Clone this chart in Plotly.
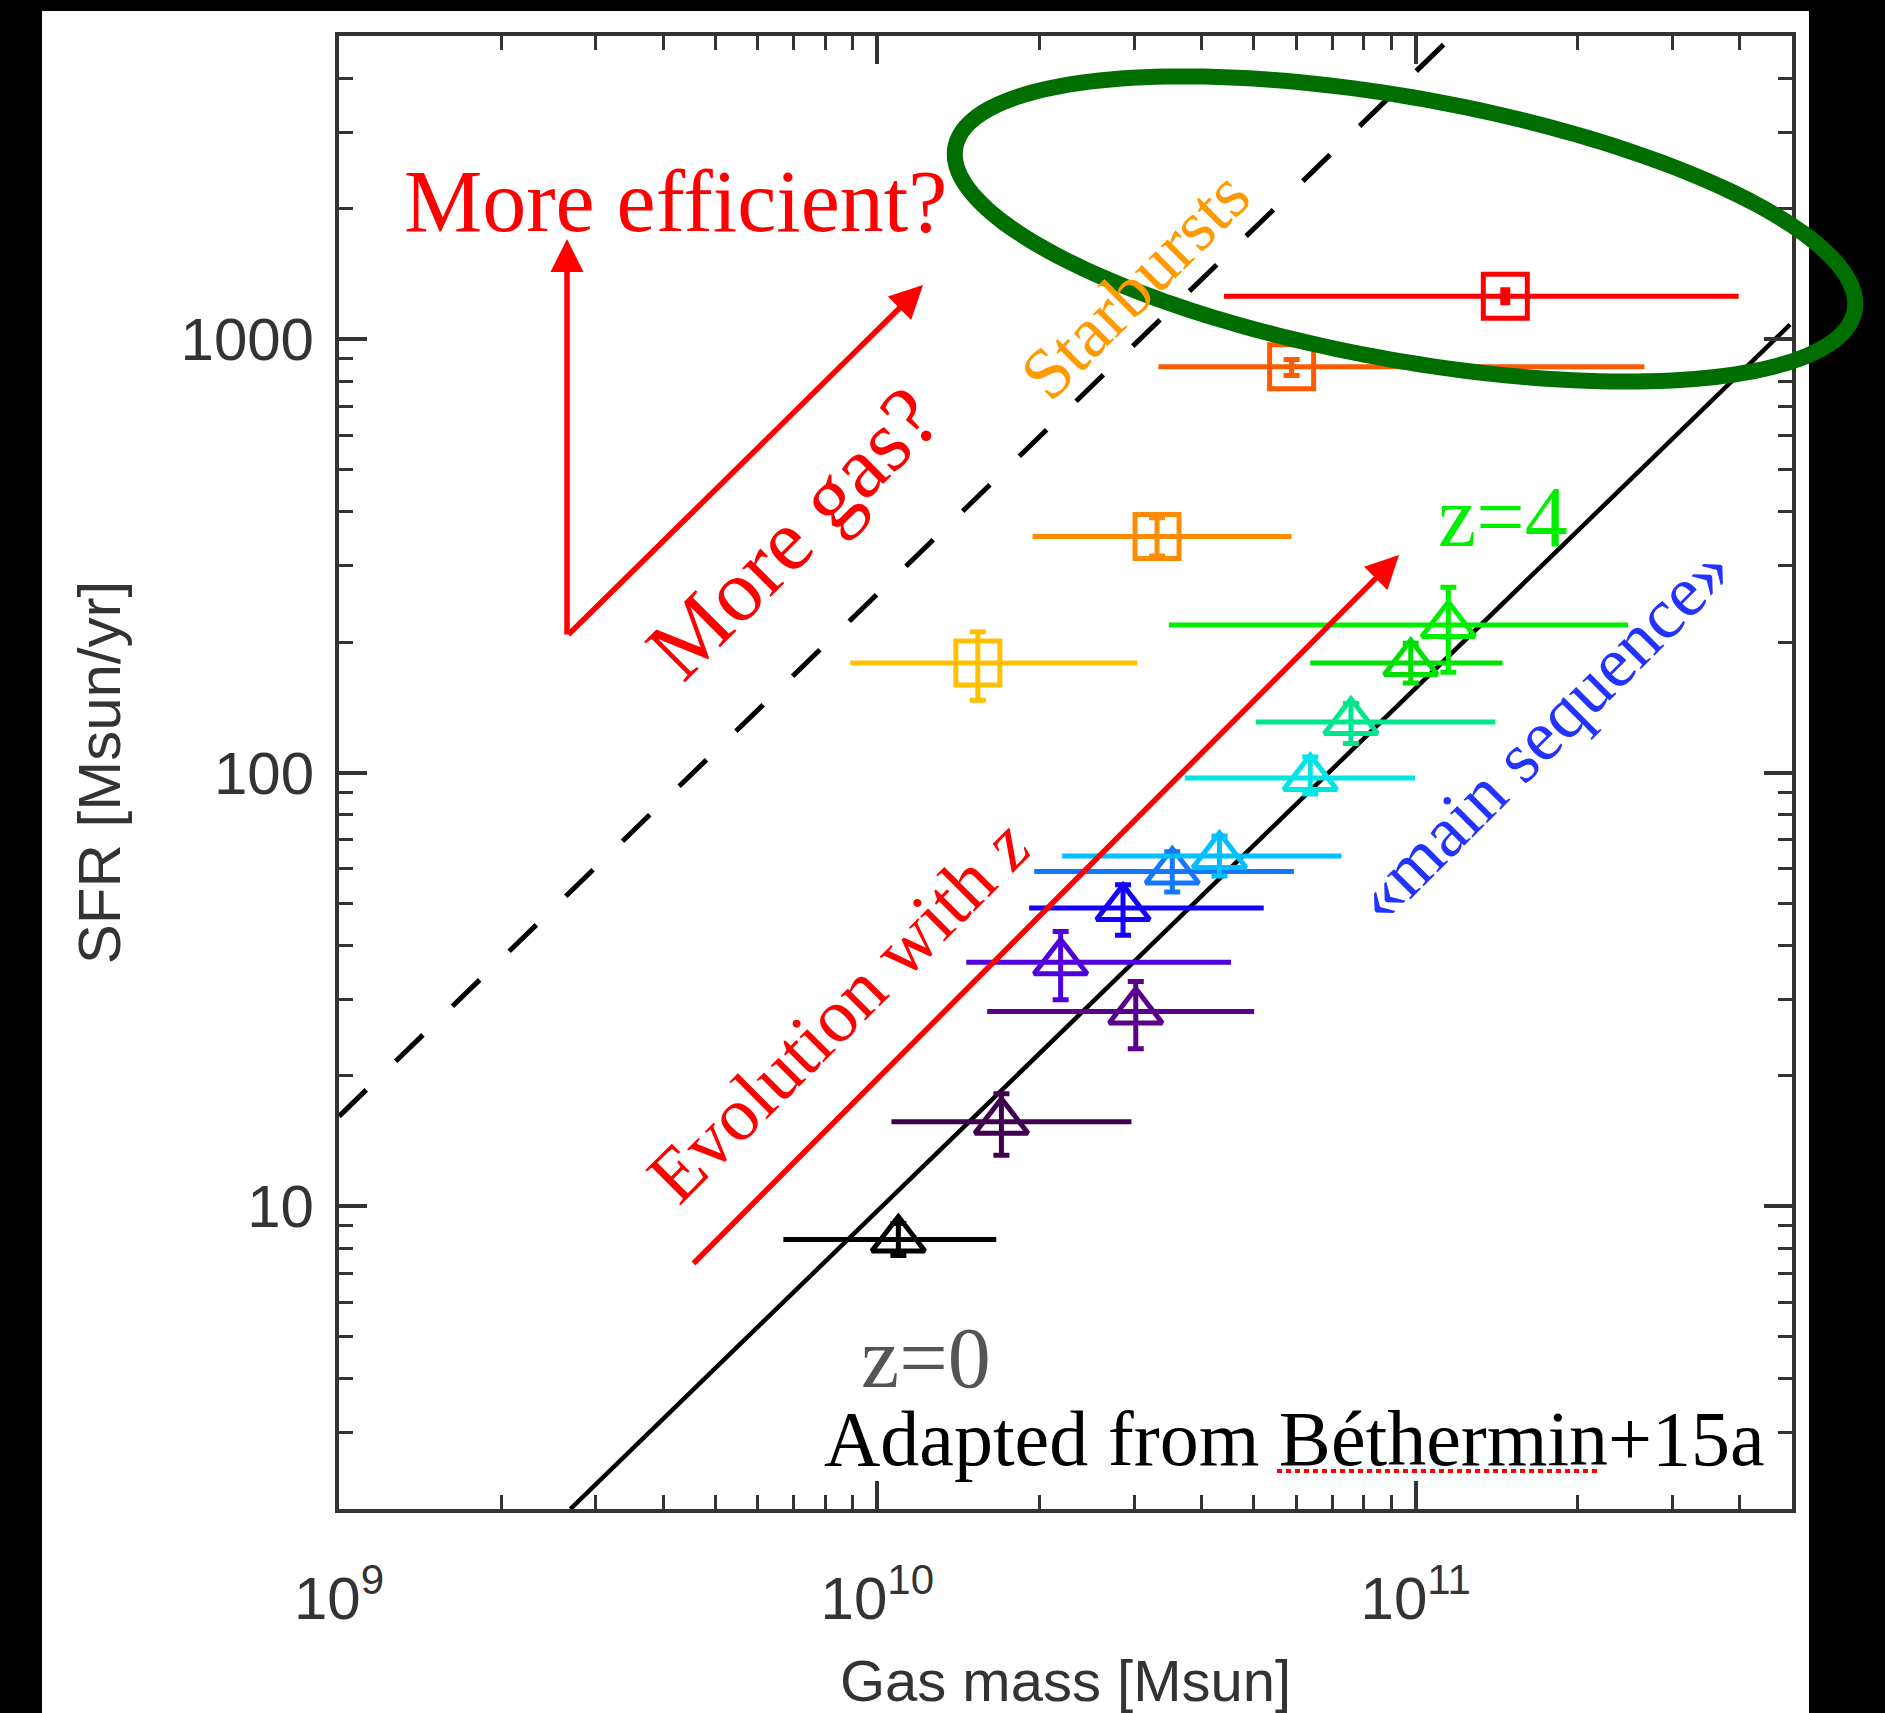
import numpy as np
import plotly.graph_objects as go

W, H = 1885, 1713
L, R, T, B = 339, 1792, 36, 1509   # plot-area edges in pixels

def PX(px):
    return (px - L) / (R - L)

def PY(py):
    return (B - py) / (B - T)

# ---------------- data ----------------
# main-sequence galaxies (triangles), ordered by redshift
ms_mass = [1.094e10, 1.70e10, 3.02e10, 2.19e10, 2.86e10, 3.53e10, 4.32e10, 6.37e10, 7.58e10, 9.79e10, 1.15e11]
ms_mass_lo = [6.69e9, 1.062e10, 1.60e10, 1.463e10, 1.914e10, 1.956e10, 2.204e10, 3.724e10, 5.045e10, 6.37e10, 3.48e10]
ms_mass_hi = [1.663e10, 2.965e10, 5.01e10, 4.54e10, 5.22e10, 5.94e10, 7.28e10, 9.97e10, 1.406e11, 1.45e11, 2.48e11]
ms_sfr = [8.37, 15.65, 28.1, 36.5, 48.7, 59.1, 64.2, 97.1, 130.8, 178.8, 218.8]
ms_sfr_lo = [7.69, 13.1, 23.06, 29.9, 42.1, 53.0, 57.7, 89.2, 116.6, 160.8, 170.4]
ms_sfr_hi = [9.11, 18.16, 32.96, 42.97, 55.1, 65.6, 71.4, 108.6, 144.2, 198.8, 267.6]
ms_colors = ["#000000", "#40004F", "#5A008C", "#5000DC", "#1400FF", "#1478FF",
             "#00BFFF", "#00E6E6", "#00E68C", "#00E000", "#00EE00"]

# starbursts (squares)
sb_mass = [1.537e10, 3.308e10, 5.882e10, 1.467e11]
sb_mass_lo = [8.91e9, 1.942e10, 3.327e10, 4.404e10]
sb_mass_hi = [3.04e10, 5.88e10, 2.66e11, 3.98e11]
sb_sfr = [178.8, 350.2, 863.0, 1255.0]
sb_sfr_lo = [146.7, 316.0, 824.0, 1228.0]
sb_sfr_hi = [211.1, 387.0, 897.0, 1282.0]
sb_colors = ["#FFC000", "#FF8C00", "#FF5A00", "#FF0000"]

# relations
ms_line_mass = [2.69e9, 4.96e11]
ms_line_sfr = [2.0, 1080.0]
sb_line_mass = [1.0e9, 1.17e11]
sb_line_sfr = [16.1, 5000.0]

# axes ticks
x_tick_vals = [1e9, 1e10, 1e11]
x_tick_text = ["10<sup>9</sup>", "10<sup>10</sup>", "10<sup>11</sup>"]
y_tick_vals = [10, 100, 1000]
y_tick_text = ["10", "100", "1000"]
x_minor = [m * 10.0 ** e for e in (9, 10, 11) for m in range(2, 10) if m * 10.0 ** e <= 5e11]
y_minor = [m * 10.0 ** e for e in (0, 1, 2, 3) for m in range(2, 10) if 2 <= m * 10.0 ** e <= 5000]

# ---------------- figure ----------------
fig = go.Figure()

fig.add_trace(go.Scatter(x=ms_line_mass, y=ms_line_sfr, mode="lines",
                         line=dict(color="black", width=4.5), hoverinfo="skip"))
fig.add_trace(go.Scatter(x=sb_line_mass, y=sb_line_sfr, mode="lines",
                         line=dict(color="black", width=5, dash="38px,41px"), hoverinfo="skip"))

def add_point(x, xlo, xhi, y, ylo, yhi, color, symbol, size, ythick=5, ycap=8):
    fig.add_trace(go.Scatter(
        x=[x], y=[y], mode="markers",
        marker=dict(symbol=symbol, size=size, color=color, line=dict(width=5, color=color)),
        error_x=dict(type="data", symmetric=False, array=[xhi - x], arrayminus=[x - xlo],
                     color=color, thickness=5, width=0),
        error_y=dict(type="data", symmetric=False, array=[yhi - y], arrayminus=[y - ylo],
                     color=color, thickness=ythick, width=ycap),
    ))

for i in range(len(sb_mass)):
    last = i == len(sb_mass) - 1
    add_point(sb_mass[i], sb_mass_lo[i], sb_mass_hi[i], sb_sfr[i], sb_sfr_lo[i], sb_sfr_hi[i],
              sb_colors[i], "square-open", 44, ythick=(10 if last else 5), ycap=(5 if last else 8))
for i in range(len(ms_mass)):
    add_point(ms_mass[i], ms_mass_lo[i], ms_mass_hi[i], ms_sfr[i], ms_sfr_lo[i], ms_sfr_hi[i],
              ms_colors[i], "triangle-up-open", 46)

axis_common = dict(
    type="log", ticks="inside", ticklen=28, tickwidth=3.5, tickcolor="#333",
    showline=True, linewidth=4, linecolor="#333", mirror="ticks",
    showgrid=False, zeroline=False, tickmode="array", automargin=False,
    tickfont=dict(family="Liberation Sans, Arial, sans-serif", size=60, color="#333"),
)

fig.update_layout(
    width=W, height=H,
    margin=dict(l=L, r=W - R, t=T, b=H - B, pad=0),
    paper_bgcolor="white", plot_bgcolor="white",
    showlegend=False,
    xaxis=dict(axis_common, range=[9, np.log10(5e11)], tickvals=x_tick_vals, ticktext=x_tick_text,
               ticklabelstandoff=34,
               minor=dict(tickmode="array", tickvals=x_minor, ticks="inside", ticklen=14,
                          tickwidth=3, tickcolor="#333", showgrid=False),
               title=dict(text="Gas mass [Msun]", standoff=40,
                          font=dict(family="Liberation Sans, Arial, sans-serif", size=58, color="#333"))),
    yaxis=dict(axis_common, range=[np.log10(2), np.log10(5000)], tickvals=y_tick_vals, ticktext=y_tick_text,
               ticklabelstandoff=9,
               minor=dict(tickmode="array", tickvals=y_minor, ticks="inside", ticklen=14,
                          tickwidth=3, tickcolor="#333", showgrid=False),
               title=dict(text="SFR [Msun/yr]", standoff=42,
                          font=dict(family="Liberation Sans, Arial, sans-serif", size=60, color="#333"))),
)

SERIF = "Liberation Serif, Times New Roman, serif"
texts = [
    ("More efficient?", 675, 201, 88, "#FF0000", 0),
    ("More gas?", 792, 533, 88, "#FF0000", -45),
    ("Starbursts", 1135, 285, 72, "#FF9900", -45),
    ("Evolution with <i>z</i>", 838, 1011, 76, "#FF0000", -45),
    ("z=4", 1503, 517, 86, "#00EE00", 0),
    ("«main sequence»", 1543, 733, 72, "#2233FF", -45),
    ("z=0", 926, 1358, 86, "#555555", 0),
    ("Adapted from Béthermin+15a", 1294, 1438, 78, "#000000", 0),
]
for txt, cx, cy, size, col, ang in texts:
    fig.add_annotation(text=txt, x=PX(cx), y=PY(cy), xref="paper", yref="paper",
                       xanchor="center", yanchor="middle", showarrow=False, textangle=ang,
                       font=dict(family=SERIF, size=size, color=col))

arrows = [((692, 1265), (1399, 555)), ((567, 636), (567, 239)), ((567, 636), (923, 285))]
for (tx, ty), (hx, hy) in arrows:
    fig.add_annotation(text="", x=PX(hx), y=PY(hy), xref="paper", yref="paper",
                       ax=tx - hx, ay=ty - hy, showarrow=True, arrowhead=2, arrowsize=1.2,
                       arrowwidth=5.5, arrowcolor="#FF0000", standoff=0)

# red dotted underline (spell-check mark) under "Béthermin"
fig.add_shape(type="line", xref="paper", yref="paper", x0=PX(1277), x1=PX(1597), y0=PY(1471), y1=PY(1471),
              line=dict(color="#FF0000", width=4, dash="5px,4px"), layer="above")

# black frame of the screenshot
for x0, x1, y0, y1 in [(-20, 42, -20, H + 60), (-20, W + 20, -20, 11), (1809, W + 20, -20, H + 60)]:
    fig.add_shape(type="rect", xref="paper", yref="paper", x0=PX(x0), x1=PX(x1), y0=PY(y1), y1=PY(y0),
                  fillcolor="black", line=dict(width=0), layer="above")

# green ellipse
cx, cy, a, b, th = 1405.0, 229.0, 457.0, 131.0, np.radians(10.3)
t = np.linspace(0, 2 * np.pi, 200)
ex = cx + a * np.cos(t) * np.cos(th) - b * np.sin(t) * np.sin(th)
ey = cy + a * np.cos(t) * np.sin(th) + b * np.sin(t) * np.cos(th)
path = "M " + " L ".join(f"{PX(x):.5f},{PY(y):.5f}" for x, y in zip(ex, ey)) + " Z"
fig.add_shape(type="path", xref="paper", yref="paper", path=path,
              line=dict(color="#006E00", width=16), layer="above")

fig.write_html("out.html")
